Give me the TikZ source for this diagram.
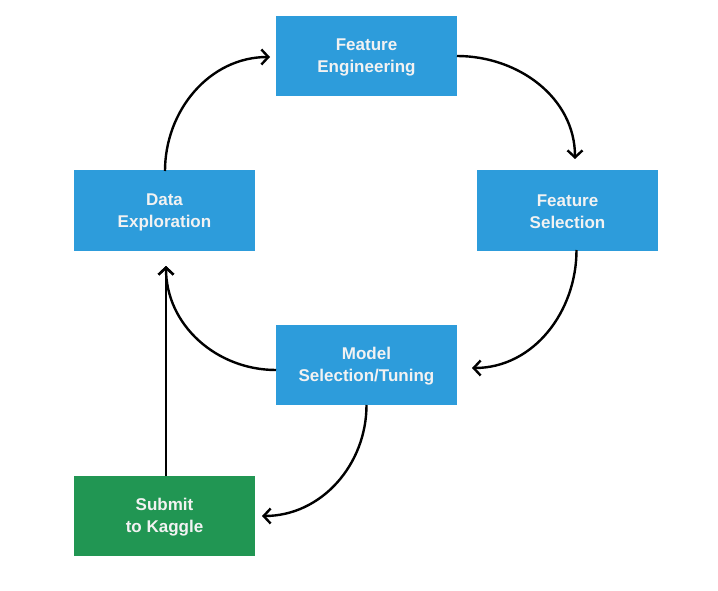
\documentclass[tikz,border=0pt]{standalone}
\usepackage{fontspec}
\setmainfont{Liberation Sans}
\usetikzlibrary{arrows.meta}
\definecolor{boxblue}{HTML}{2D9CDB}
\definecolor{boxgreen}{HTML}{219653}
\definecolor{txt}{HTML}{F2F2F2}
\begin{document}
\begin{tikzpicture}[x=1pt,y=-1pt,
  stepbox/.style={fill=boxblue,draw=none,minimum width=181pt,minimum height=80pt,inner sep=0pt,
    text=txt,font=\fontsize{17}{22}\selectfont\bfseries,align=center},
  greenbox/.style={stepbox,fill=boxgreen},
  lbl/.style={text=txt,font=\fontsize{17}{22}\selectfont\bfseries,align=center,inner sep=0pt},
  conn/.style={draw=black,line width=2.4pt,-{Straight Barb[length=7pt,width=15pt,line width=2.4pt]}}]
\useasboundingbox (0,0) rectangle (718,591);
\node[stepbox] (fe) at (366.5,56) {};
\node[stepbox] (de) at (164.5,210.5) {};
\node[stepbox] (fs) at (567.5,210.5) {};
\node[stepbox] (ms) at (366.5,365) {};
\node[greenbox] (sk) at (164.5,515.5) {};
\node[lbl] (fet) at ([yshift=-1.5pt]fe.center) {Feature\\Engineering};
\node[lbl] (det) at ([yshift=-1.5pt]de.center) {Data\\Exploration};
\node[lbl] (fst) at ([yshift=-1.5pt]fs.center) {Feature\\Selection};
\node[lbl] (mst) at ([yshift=-1.5pt]ms.center) {Model\\Selection/Tuning};
\node[lbl] (skt) at ([yshift=-1.5pt]sk.center) {Submit\\to Kaggle};
\coordinate (a1s) at (165,171);
\coordinate (a1e) at (270,57);
\coordinate (a2s) at (457,56);
\coordinate (a2e) at (575,159);
\coordinate (a3s) at (576.5,250);
\coordinate (a3e) at (472,368);
\coordinate (a4s) at (276,370);
\coordinate (a4e) at (166,266);
\coordinate (a5s) at (366.5,405);
\coordinate (a5e) at (262,516);
\coordinate (a6s) at (166,476);
\draw[conn] (a1s) to[out=90,in=180] (a1e);
\draw[conn] (a2s) to[out=0,in=90] (a2e);
\draw[conn] (a3s) to[out=-90,in=0] (a3e);
\draw[conn] (a4s) to[out=180,in=-90] (a4e);
\draw[conn] (a5s) to[out=-90,in=0] (a5e);
\draw[conn] (a6s) -- (a4e);
\end{tikzpicture}
\end{document}
